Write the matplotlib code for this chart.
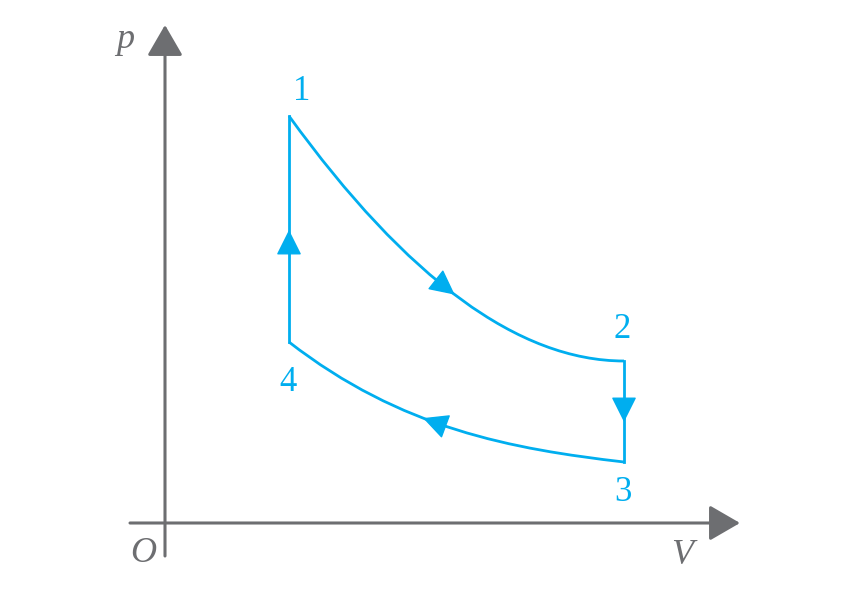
import numpy as np
import matplotlib.pyplot as plt
from matplotlib.path import Path
from matplotlib.patches import PathPatch

# state points of the cycle (V, p), origin at axis crossing
V_states = [124, 459, 459, 124]
p_states = [407, 162, 61, 181]
state_labels = ["1", "2", "3", "4"]

# inner bezier control points of the curved legs 1->2 and 4->3
ctrl12_V = [242, 354]
ctrl12_p = [244, 162]
ctrl43_V = [236, 347]
ctrl43_p = [94, 74]

blue = "#00aeef"
gray = "#6d6e71"

fig = plt.figure(figsize=(8.43, 5.96), dpi=100)
ax = fig.add_axes([0, 0, 1, 1])
ax.set_xlim(-165, 678)
ax.set_ylim(-73, 523)
ax.axis("off")

lw = 2.0

def bez_pts(ia, ib, cv, cp):
    return np.array([[V_states[ia], p_states[ia]], [cv[0], cp[0]],
                     [cv[1], cp[1]], [V_states[ib], p_states[ib]]], float)

P12 = bez_pts(0, 1, ctrl12_V, ctrl12_p)
P43 = bez_pts(3, 2, ctrl43_V, ctrl43_p)
for P in (P12, P43):
    path = Path(P, [Path.MOVETO, Path.CURVE4, Path.CURVE4, Path.CURVE4])
    ax.add_patch(PathPatch(path, fill=False, edgecolor=blue, lw=lw,
                           joinstyle="miter"))

ax.plot([V_states[1], V_states[2]], [p_states[1], p_states[2]], color=blue,
        lw=lw, solid_joinstyle="miter")
ax.plot([V_states[3], V_states[0]], [p_states[3], p_states[0]], color=blue,
        lw=lw, solid_joinstyle="miter")

def bez(P, t):
    b = np.array([(1 - t) ** 3, 3 * t * (1 - t) ** 2, 3 * t ** 2 * (1 - t), t ** 3])
    return b @ P

def head(x0, y0, x1, y1):
    ax.annotate("", xy=(x1, y1), xytext=(x0, y0),
                arrowprops=dict(arrowstyle="-|>,head_length=0.8,head_width=0.4",
                                mutation_scale=20, color=blue, lw=1,
                                shrinkA=0, shrinkB=0))

# direction arrows on each leg
a, b = bez(P12, 0.44), bez(P12, 0.48)
head(a[0], a[1], b[0], b[1])
a, b = bez(P43, 0.44), bez(P43, 0.40)
head(a[0], a[1], b[0], b[1])
head(V_states[0], 270, V_states[0], 293)
head(V_states[1], 124, V_states[1], 101)

# state labels
offsets = [(9, 18), (-1, 23), (-1, -22), (-1, -29)]
for v, p, s, off in zip(V_states, p_states, state_labels, offsets):
    ax.annotate(s, (v, p), xytext=off, textcoords="offset points",
                ha="center", va="center", color=blue, fontsize=25,
                family="Liberation Serif")

# axes with arrow heads
axprops = dict(arrowstyle="-|>,head_length=0.95,head_width=0.55",
               mutation_scale=20, color=gray, lw=2.2, shrinkA=0, shrinkB=0)
ax.annotate("", xy=(575, 0), xytext=(-35, 0), arrowprops=axprops)
ax.annotate("", xy=(0, 498), xytext=(0, -33), arrowprops=axprops)

ax.text(-40, 483, "p", color=gray, fontsize=26, style="italic",
        family="Liberation Serif", ha="center", va="center")
ax.text(517, -32, "V", color=gray, fontsize=26, style="italic",
        family="Liberation Serif", ha="center", va="center")
ax.text(-22, -30, "O", color=gray, fontsize=26, style="italic",
        family="Liberation Serif", ha="center", va="center")

fig.savefig("out.png", dpi=100)
